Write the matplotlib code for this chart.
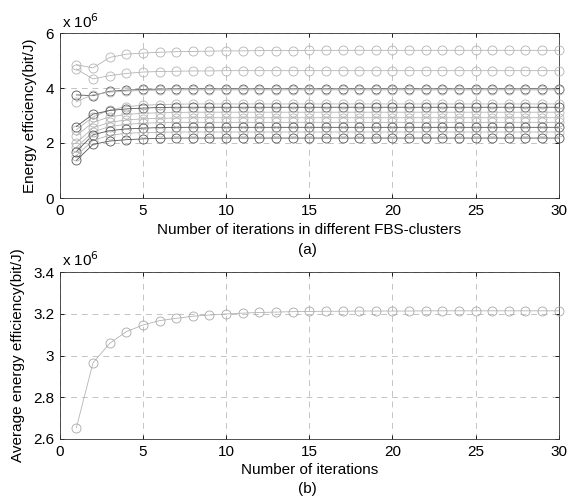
import numpy as np
import matplotlib
matplotlib.use('Agg')
import matplotlib.pyplot as plt

plt.rcParams['font.family'] = ['Liberation Sans', 'DejaVu Sans']

# iterations
iters = np.arange(1, 31)
x_ticks = [0, 5, 10, 15, 20, 25, 30]
x_ticklabels = ['0', '5', '10', '15', '20', '25', '30']

# (a) energy efficiency per FBS-cluster, in units of 1e6 bit/J
ee_c1 = [4.85, 4.73, 5.11, 5.23, 5.27, 5.30, 5.32, 5.33, 5.34, 5.35,
         5.35, 5.36, 5.36, 5.36, 5.37, 5.37, 5.37, 5.37, 5.37, 5.37,
         5.37, 5.37, 5.37, 5.37, 5.37, 5.37, 5.37, 5.37, 5.37, 5.37]
ee_c2 = [4.69, 4.33, 4.45, 4.53, 4.58, 4.60, 4.61, 4.62, 4.62, 4.63,
         4.63, 4.63, 4.63, 4.63, 4.63, 4.63, 4.63, 4.63, 4.63, 4.63,
         4.63, 4.63, 4.63, 4.63, 4.63, 4.63, 4.63, 4.63, 4.63, 4.63]
ee_c3 = [3.75, 3.72, 3.88, 3.92, 3.95, 3.96, 3.97, 3.97, 3.97, 3.97,
         3.97, 3.97, 3.97, 3.97, 3.97, 3.97, 3.97, 3.97, 3.97, 3.97,
         3.97, 3.97, 3.97, 3.97, 3.97, 3.97, 3.97, 3.97, 3.97, 3.97]
ee_c4 = [3.50, 3.76, 3.85, 3.89, 3.91, 3.92, 3.93, 3.93, 3.93, 3.93,
         3.93, 3.93, 3.93, 3.93, 3.93, 3.93, 3.93, 3.93, 3.93, 3.93,
         3.93, 3.93, 3.93, 3.93, 3.93, 3.93, 3.93, 3.93, 3.93, 3.93]
ee_c5 = [2.48, 2.95, 3.20, 3.32, 3.37, 3.40, 3.41, 3.42, 3.42, 3.42,
         3.42, 3.42, 3.42, 3.42, 3.42, 3.42, 3.42, 3.42, 3.42, 3.42,
         3.42, 3.42, 3.42, 3.42, 3.42, 3.42, 3.42, 3.42, 3.42, 3.42]
ee_c6 = [2.60, 3.05, 3.18, 3.24, 3.27, 3.29, 3.30, 3.30, 3.30, 3.30,
         3.30, 3.30, 3.30, 3.30, 3.30, 3.30, 3.30, 3.30, 3.30, 3.30,
         3.30, 3.30, 3.30, 3.30, 3.30, 3.30, 3.30, 3.30, 3.30, 3.30]
ee_c7 = [2.27, 2.75, 2.95, 3.04, 3.08, 3.10, 3.11, 3.12, 3.12, 3.12,
         3.12, 3.12, 3.12, 3.12, 3.12, 3.12, 3.12, 3.12, 3.12, 3.12,
         3.12, 3.12, 3.12, 3.12, 3.12, 3.12, 3.12, 3.12, 3.12, 3.12]
ee_c8 = [2.00, 2.55, 2.75, 2.84, 2.88, 2.90, 2.91, 2.92, 2.92, 2.92,
         2.92, 2.92, 2.92, 2.92, 2.92, 2.92, 2.92, 2.92, 2.92, 2.92,
         2.92, 2.92, 2.92, 2.92, 2.92, 2.92, 2.92, 2.92, 2.92, 2.92]
ee_c9 = [1.85, 2.40, 2.60, 2.68, 2.72, 2.74, 2.75, 2.75, 2.75, 2.75,
         2.75, 2.75, 2.75, 2.75, 2.75, 2.75, 2.75, 2.75, 2.75, 2.75,
         2.75, 2.75, 2.75, 2.75, 2.75, 2.75, 2.75, 2.75, 2.75, 2.75]
ee_c10 = [1.69, 2.30, 2.45, 2.51, 2.54, 2.56, 2.57, 2.57, 2.57, 2.57,
          2.57, 2.57, 2.57, 2.57, 2.57, 2.57, 2.57, 2.57, 2.57, 2.57,
          2.57, 2.57, 2.57, 2.57, 2.57, 2.57, 2.57, 2.57, 2.57, 2.57]
ee_c11 = [1.54, 2.10, 2.28, 2.35, 2.38, 2.39, 2.40, 2.40, 2.40, 2.40,
          2.40, 2.40, 2.40, 2.40, 2.40, 2.40, 2.40, 2.40, 2.40, 2.40,
          2.40, 2.40, 2.40, 2.40, 2.40, 2.40, 2.40, 2.40, 2.40, 2.40]
ee_c12 = [1.37, 1.95, 2.07, 2.12, 2.15, 2.17, 2.18, 2.18, 2.18, 2.18,
          2.18, 2.18, 2.18, 2.18, 2.18, 2.18, 2.18, 2.18, 2.18, 2.18,
          2.18, 2.18, 2.18, 2.18, 2.18, 2.18, 2.18, 2.18, 2.18, 2.18]

# shade of each cluster curve (dark or light grey)
cluster_series = [ee_c1, ee_c2, ee_c3, ee_c4, ee_c5, ee_c6,
                  ee_c7, ee_c8, ee_c9, ee_c10, ee_c11, ee_c12]
cluster_dark = [False, False, True, False, False, True,
                False, False, False, True, False, True]

# (b) average energy efficiency, in units of 1e6 bit/J
avg_ee = [2.654, 2.965, 3.058, 3.114, 3.146, 3.167, 3.178, 3.188, 3.194, 3.199,
          3.203, 3.206, 3.208, 3.210, 3.211, 3.212, 3.212, 3.213, 3.213, 3.213,
          3.213, 3.214, 3.214, 3.214, 3.214, 3.214, 3.214, 3.214, 3.214, 3.214]

DARK = '#555555'
LIGHT = '#b4b4b4'
GRID = '#c4c4c4'
FS = 11


def style_axes(ax):
    ax.tick_params(direction='in', top=True, right=True, length=3,
                   width=0.6, labelsize=FS, colors='black', pad=4)
    for s in ax.spines.values():
        s.set_linewidth(0.6)
        s.set_color('#333333')
    ax.grid(True, color=GRID, linestyle=(0, (6, 5)), linewidth=0.7)
    ax.set_axisbelow(True)


fig = plt.figure(figsize=(5.69, 5.0), dpi=100)
ax1 = fig.add_axes([0.105, 0.604, 0.877, 0.330])
ax2 = fig.add_axes([0.105, 0.122, 0.877, 0.334])

# top panel
for vals, dark in zip(cluster_series, cluster_dark):
    c = DARK if dark else LIGHT
    ax1.plot(iters, vals, color=c, linewidth=0.6, marker='o',
             markersize=6.5, markerfacecolor='none', markeredgecolor=c,
             markeredgewidth=0.6, clip_on=False, zorder=3)
ax1.set_xlim(0, 30)
ax1.set_ylim(0, 6)
ax1.set_xticks(x_ticks)
ax1.set_xticklabels(x_ticklabels)
ax1.set_yticks([0, 2, 4, 6])
ax1.set_yticklabels(['0', '2', '4', '6'])
style_axes(ax1)
ax1.set_ylabel('Energy efficiency(bit/J)', fontsize=FS)
ax1.yaxis.set_label_coords(-0.046, 0.5)
ax1.set_xlabel('Number of iterations in different FBS-clusters', fontsize=FS,
               va='center')
ax1.xaxis.set_label_coords(0.5, -0.194)
ax1.text(0.005, 1.015, r'x 10$^{6}$', transform=ax1.transAxes,
         fontsize=FS, ha='left', va='bottom')
fig.text(0.54, 0.50, '(a)', fontsize=FS, ha='center', va='center')

# bottom panel
ax2.plot(iters, avg_ee, color=LIGHT, linewidth=0.6, marker='o',
         markersize=6.5, markerfacecolor='none', markeredgecolor='#a8a8a8',
         markeredgewidth=0.6, clip_on=False, zorder=3)
ax2.set_xlim(0, 30)
ax2.set_ylim(2.6, 3.4)
ax2.set_xticks(x_ticks)
ax2.set_xticklabels(x_ticklabels)
ax2.set_yticks([2.6, 2.8, 3.0, 3.2, 3.4])
ax2.set_yticklabels(['2.6', '2.8', '3', '3.2', '3.4'])
style_axes(ax2)
ax2.set_ylabel('Average energy efficiency(bit/J)', fontsize=FS)
ax2.yaxis.set_label_coords(-0.069, 0.5)
ax2.set_xlabel('Number of iterations', fontsize=FS, va='center')
ax2.xaxis.set_label_coords(0.5, -0.186)
ax2.text(0.005, 1.015, r'x 10$^{6}$', transform=ax2.transAxes,
         fontsize=FS, ha='left', va='bottom')
fig.text(0.54, 0.022, '(b)', fontsize=FS, ha='center', va='center')

fig.savefig('out.png', dpi=100)
plt.close(fig)
